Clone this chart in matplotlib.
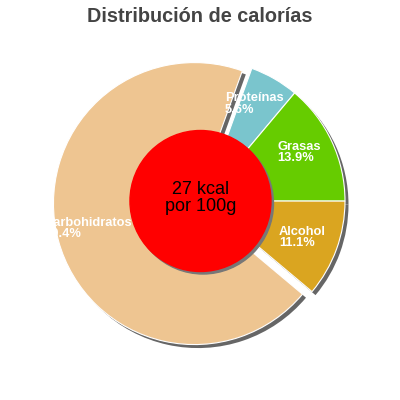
import matplotlib.pyplot as plt
from matplotlib.patches import Circle

# data
labels = ["Carbohidratos", "Proteínas", "Grasas", "Alcohol"]
percents = [69.4, 5.6, 13.9, 11.1]
colors = ["#EEC591", "#7AC5CD", "#66CC00", "#DAA520"]
explode = [0.07, 0, 0, 0]
center_text = "27 kcal\npor 100g"
title = "Distribución de calorías"

# label anchors (left edge, middle of block), in pie-radius units
label_pos = [(-1.128, -0.195), (0.149, 0.688), (0.518, 0.344), (0.532, -0.259)]

plt.rcParams["font.family"] = ["Liberation Sans", "DejaVu Sans"]

fig = plt.figure(figsize=(4, 4), dpi=100)
ax = fig.add_axes([0, 0, 1, 1])
px = 141.0  # pixels per pie radius

sh = 3.5 / px
# shadow
ax.pie(percents, explode=explode, colors=["#666666"] * 4, startangle=-40,
       counterclock=False, radius=1, center=(sh, -sh), frame=True,
       wedgeprops=dict(linewidth=0))
ax.pie(percents, explode=explode, colors=colors, startangle=-40,
       counterclock=False, radius=1, center=(0, 0), frame=True,
       wedgeprops=dict(edgecolor="white", linewidth=0.8))
ax.set_xlim(-204 / px, 196 / px)
ax.set_ylim(-199 / px, 201 / px)
ax.axis("off")

ax.add_patch(Circle((-0.025 + 2.5 / px, -2.5 / px), 0.5, color="#777777", zorder=3))
ax.add_patch(Circle((-0.025, 0), 0.5, color="#FF0000", zorder=4))
ax.text(-0.025, 0.02, center_text, ha="center", va="center", fontsize=13,
        linespacing=1.0, color="black", zorder=5)

for lab, p, (x, y) in zip(labels, percents, label_pos):
    ax.text(x, y, f"{lab}\n{p}%", ha="left", va="center", fontsize=9.3,
            fontweight="bold", color="white", linespacing=0.9, zorder=6)

fig.text(0.5, 0.958, title, ha="center", va="center", fontsize=14.3,
         fontweight="bold", color="#444444")

fig.savefig("out.png", dpi=100)
